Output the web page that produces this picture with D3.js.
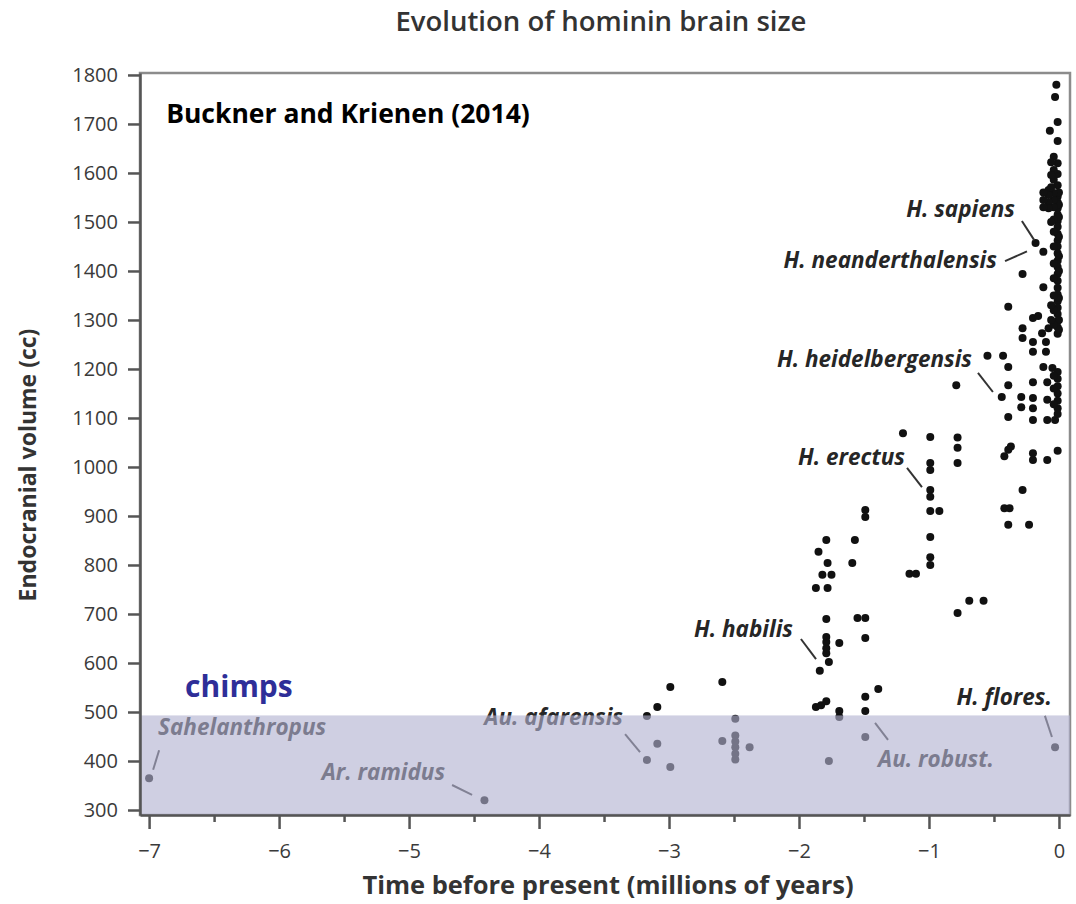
<!DOCTYPE html>
<html>
<head>
<meta charset="utf-8">
<script src="https://cdn.jsdelivr.net/npm/d3@7"></script>
<style>
  html, body { margin: 0; padding: 0; background: #fff; }
  svg { display: block; }
</style>
</head>
<body>
<svg id="chart" width="1076" height="904"></svg>
<script>
// ---------------- DATA ----------------
// [time before present (Myr, negative), endocranial volume (cc)]
const earlyHominins = [[-7.0, 365], [-4.42, 320]];

const australopiths = [
  [-3.17, 492], [-3.09, 510], [-2.99, 551], [-3.09, 435], [-3.17, 402], [-2.99, 388],
  [-2.59, 561], [-2.59, 441], [-2.49, 486], [-2.49, 452], [-2.49, 440], [-2.49, 428],
  [-2.49, 415], [-2.49, 403], [-2.38, 428],
  [-1.77, 400], [-1.69, 490], [-1.69, 502], [-1.49, 449], [-1.49, 502], [-1.49, 531], [-1.39, 547]
];

const floresiensis = [[-0.03, 428]];

const habilisGroup = [
  [-1.87, 510], [-1.83, 514], [-1.79, 522],
  [-1.84, 584], [-1.77, 602], [-1.79, 620], [-1.79, 630], [-1.79, 643], [-1.79, 653],
  [-1.69, 641], [-1.79, 690],
  [-1.87, 753], [-1.78, 753], [-1.82, 780], [-1.75, 780], [-1.78, 804], [-1.85, 827], [-1.79, 851],
  [-1.59, 804], [-1.57, 851], [-1.55, 692], [-1.49, 692], [-1.49, 651], [-1.49, 898], [-1.49, 912]
];

const erectusGroup = [
  [-1.20, 1069], [-0.99, 1061], [-0.99, 1008], [-0.99, 994], [-0.99, 953], [-0.99, 939],
  [-0.99, 910], [-0.92, 910], [-0.99, 857], [-0.99, 816], [-0.99, 800], [-1.15, 782], [-1.10, 782],
  [-0.78, 1060], [-0.78, 1039], [-0.78, 1008], [-0.78, 702], [-0.69, 727], [-0.58, 727]
];

const heidelbergGroup = [
  [-0.79, 1167], [-0.55, 1227], [-0.43, 1227], [-0.39, 1204], [-0.39, 1167], [-0.44, 1143],
  [-0.39, 1102], [-0.39, 1327], [-0.42, 1022], [-0.39, 1035], [-0.37, 1042], [-0.28, 953],
  [-0.42, 916], [-0.38, 916], [-0.39, 882], [-0.23, 882],
  [-0.28, 1394], [-0.28, 1283], [-0.28, 1263], [-0.29, 1143], [-0.29, 1122],
  [-0.20, 1028], [-0.20, 1014], [-0.09, 1014], [-0.01, 1033],
  [-0.20, 1304], [-0.16, 1308], [-0.20, 1255], [-0.10, 1255], [-0.20, 1235], [-0.10, 1235],
  [-0.12, 1204], [-0.05, 1202], [-0.20, 1173], [-0.09, 1173], [-0.20, 1141], [-0.20, 1120],
  [-0.09, 1137], [-0.20, 1096], [-0.09, 1096], [-0.03, 1096], [-0.08, 1283], [-0.13, 1273]
];

const modernGroup = [
  [-0.18, 1457], [-0.12, 1439], [-0.12, 1367],
  [-0.02, 1780], [-0.03, 1755], [-0.01, 1704], [-0.07, 1686], [-0.01, 1665],
  [-0.01, 1620], [-0.01, 1598], [-0.01, 1575], [-0.01, 1552], [-0.01, 1540], [-0.01, 1528],
  [-0.01, 1515], [-0.01, 1502], [-0.01, 1490], [-0.01, 1476], [-0.01, 1462], [-0.01, 1450],
  [-0.01, 1436], [-0.01, 1421], [-0.01, 1408], [-0.01, 1394], [-0.01, 1380], [-0.01, 1366],
  [-0.01, 1352], [-0.01, 1338], [-0.01, 1325], [-0.01, 1312], [-0.01, 1298], [-0.01, 1285], [-0.01, 1272],
  [0.0, 1560], [0.0, 1535], [0.0, 1510], [0.0, 1470], [0.0, 1430], [0.0, 1400], [0.0, 1345], [0.0, 1300], [0.0, 1280],
  [-0.04, 1633], [-0.04, 1606], [-0.04, 1586], [-0.04, 1559], [-0.04, 1545], [-0.04, 1530],
  [-0.04, 1505], [-0.04, 1480], [-0.04, 1450], [-0.04, 1415], [-0.04, 1385], [-0.04, 1350],
  [-0.04, 1320], [-0.04, 1290],
  [-0.08, 1565], [-0.08, 1555], [-0.08, 1540], [-0.08, 1528],
  [-0.12, 1560], [-0.12, 1545], [-0.12, 1530],
  [-0.06, 1622], [-0.06, 1596], [-0.06, 1571], [-0.06, 1500], [-0.06, 1330], [-0.06, 1300],
  [-0.01, 1194], [-0.01, 1180], [-0.01, 1165], [-0.01, 1150], [-0.01, 1135], [-0.01, 1120], [-0.01, 1108],
  [-0.04, 1186], [-0.04, 1160], [-0.04, 1128]
];

const xTicks = [-7, -6, -5, -4, -3, -2, -1, 0];
const xMinorTicks = [-6.5, -5.5, -4.5, -3.5, -2.5, -1.5, -0.5];
const yTicks = [300, 400, 500, 600, 700, 800, 900, 1000, 1100, 1200, 1300, 1400, 1500, 1600, 1700, 1800];

const chimpRange = [289.8, 493];

// species labels: text, anchor point (t, cc), text-anchor, leader line from/to (t, cc)
const speciesLabels = [
  { text: "H. sapiens", t: -0.338, v: 1510, anchor: "end", line: [[-0.285, 1502], [-0.19, 1463]] },
  { text: "H. neanderthalensis", t: -0.477, v: 1407, anchor: "end", line: [[-0.415, 1420], [-0.246, 1440]] },
  { text: "H. heidelbergensis", t: -0.669, v: 1204, anchor: "end", line: [[-0.623, 1192], [-0.508, 1153]] },
  { text: "H. erectus", t: -1.185, v: 1004, anchor: "end", line: [[-1.169, 998], [-1.054, 959]] },
  { text: "H. habilis", t: -2.046, v: 653, anchor: "end", line: [[-1.985, 649], [-1.869, 608]] },
  { text: "H. flores.", t: -0.054, v: 514, anchor: "end", line: [[-0.108, 492], [-0.054, 449]] },
  { text: "Au. robust.", t: -1.392, v: 388, anchor: "start", line: [[-1.415, 478], [-1.315, 443]] },
  { text: "Au. afarensis", t: -3.354, v: 473, anchor: "end", line: [[-3.338, 455], [-3.223, 418]] },
  { text: "Ar. ramidus", t: -4.723, v: 361, anchor: "end", line: [[-4.669, 351], [-4.515, 331]] },
  { text: "Sahelanthropus", t: -6.931, v: 453, anchor: "start", line: [[-6.923, 422], [-6.969, 382]] }
];

const titleText = "Evolution of hominin brain size";
const sourceText = "Buckner and Krienen (2014)";
const chimpText = "chimps";
const xTitle = "Time before present (millions of years)";
const yTitle = "Endocranial volume (cc)";

// ---------------- CHART ----------------
const svg = d3.select("#chart");
const FONT = "'Open Sans', 'DejaVu Sans', sans-serif";
const pLeft = 140, pRight = 1070, pTop = 73, pBottom = 815;

const x = d3.scaleLinear().domain([-7.07, 0.085]).range([pLeft, pRight]);
const y = d3.scaleLinear().domain([289.8, 1804]).range([pBottom, pTop]);

// frame (top/right)
svg.append("rect")
  .attr("x", pLeft).attr("y", pTop)
  .attr("width", pRight - pLeft).attr("height", pBottom - pTop)
  .attr("fill", "#fff").attr("stroke", "#8c8c8c").attr("stroke-width", 2.5);

// title
svg.append("text")
  .attr("x", 601).attr("y", 31)
  .attr("text-anchor", "middle")
  .attr("font-family", FONT).attr("font-weight", 600).attr("font-size", 27.5)
  .attr("fill", "#333")
  .text(titleText);

// source
svg.append("text")
  .attr("x", x(-6.869)).attr("y", y(1702))
  .attr("font-family", FONT).attr("font-weight", 700).attr("font-size", 26.5)
  .attr("fill", "#000")
  .text(sourceText);

// points
const allPoints = [].concat(earlyHominins, australopiths, floresiensis, habilisGroup,
  erectusGroup, heidelbergGroup, modernGroup);
svg.append("g").selectAll("circle")
  .data(allPoints).join("circle")
  .attr("cx", d => x(d[0])).attr("cy", d => y(d[1]))
  .attr("r", 4).attr("fill", "#111");

// labels
const lg = svg.append("g");
speciesLabels.forEach(l => {
  lg.append("text")
    .attr("x", x(l.t)).attr("y", y(l.v))
    .attr("text-anchor", l.anchor)
    .attr("font-family", FONT).attr("font-weight", 700).attr("font-style", "italic")
    .attr("font-size", 22.5).attr("fill", "#262626")
    .text(l.text);
  lg.append("line")
    .attr("x1", x(l.line[0][0])).attr("y1", y(l.line[0][1]))
    .attr("x2", x(l.line[1][0])).attr("y2", y(l.line[1][1]))
    .attr("stroke", "#333").attr("stroke-width", 2);
});

// chimp overlay
svg.append("rect")
  .attr("x", pLeft).attr("y", y(chimpRange[1]))
  .attr("width", pRight - pLeft).attr("height", y(chimpRange[0]) - y(chimpRange[1]))
  .attr("fill", "rgb(177,177,208)").attr("fill-opacity", 0.62);

svg.append("text")
  .attr("x", x(-6.723)).attr("y", y(530))
  .attr("font-family", FONT).attr("font-weight", 700).attr("font-size", 30)
  .attr("fill", "#2e2e98")
  .text(chimpText);

// axes
const yAxis = svg.append("g")
  .attr("transform", `translate(${pLeft},0)`)
  .call(d3.axisLeft(y).tickValues(yTicks).tickSize(12).tickPadding(10).tickSizeOuter(0)
    .tickFormat(d3.format("d")));
const xAxis = svg.append("g")
  .attr("transform", `translate(0,${pBottom})`)
  .call(d3.axisBottom(x).tickValues(xTicks).tickSize(14).tickPadding(15).tickSizeOuter(0)
    .tickFormat(d => d === 0 ? "0" : "\u2212" + Math.abs(d)));
const xMinor = svg.append("g")
  .attr("transform", `translate(0,${pBottom})`)
  .call(d3.axisBottom(x).tickValues(xMinorTicks).tickSize(7).tickFormat(() => "").tickSizeOuter(0));

[yAxis, xAxis, xMinor].forEach(g => {
  g.select(".domain").attr("stroke", "#555").attr("stroke-width", 2.5);
  g.selectAll(".tick line").attr("stroke", "#555").attr("stroke-width", 2.5);
  g.selectAll(".tick text").attr("font-family", FONT).attr("font-size", 20).attr("fill", "#3a3a3a");
});
xMinor.select(".domain").remove();

// axis titles
svg.append("text")
  .attr("x", 608).attr("y", 894)
  .attr("text-anchor", "middle")
  .attr("font-family", FONT).attr("font-weight", 700).attr("font-size", 25.5)
  .attr("fill", "#333")
  .text(xTitle);

svg.append("text")
  .attr("transform", `translate(36,${465}) rotate(-90)`)
  .attr("text-anchor", "middle")
  .attr("font-family", FONT).attr("font-weight", 700).attr("font-size", 23)
  .attr("fill", "#333")
  .text(yTitle);
</script>
</body>
</html>
